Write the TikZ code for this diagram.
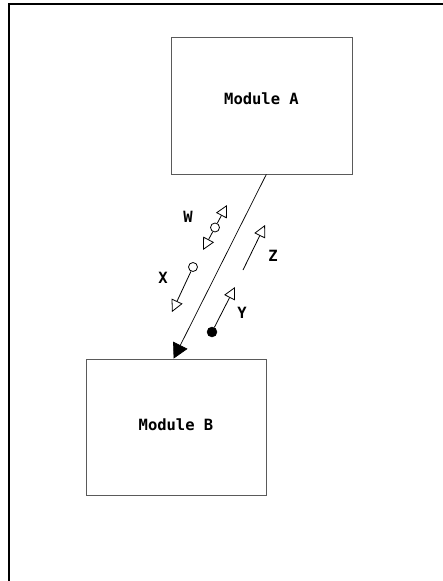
\documentclass[tikz,border=0pt]{standalone}
\usepackage{fontspec}
\setmonofont{DejaVu Sans Mono}
\usepackage{tikz}
\usetikzlibrary{arrows.meta, calc}
\definecolor{boxgray}{RGB}{90,90,90}

\begin{document}
\begin{tikzpicture}[
    x=1pt, y=-1pt,
    every node/.style={font=\ttfamily\bfseries\fontsize{15.5}{18}\selectfont},
    module/.style={rectangle, draw=boxgray, line width=0.8pt, minimum width=181pt, minimum height=137pt, inner sep=0pt},
    call/.style={-{Triangle[length=15pt, width=16pt]}, line width=0.7pt},
    couple/.style={-{Triangle[open, length=12pt, width=12pt]}, line width=0.8pt},
    datadot/.style={circle, draw, fill=white, line width=0.8pt, minimum size=9pt, inner sep=0pt},
    flagdot/.style={circle, draw, fill=black, minimum size=10pt, inner sep=0pt},
    tag/.style={inner sep=0pt}
]
\useasboundingbox (0,0) rectangle (443,581);
% outer frame
\draw[line width=2pt] (9,600) -- (9,4) -- (460,4);
% modules
\node[module, label={[yshift=7pt]center:Module A}] (modA) at (261.5,105.5) {};
\node[module, minimum width=180pt, minimum height=136pt, label={[yshift=2pt]center:Module B}] (modB) at (176,427) {};
\draw[call] (modA.-86) -- (modB.92.5);
% couples
\coordinate (w1) at (203,250);
\coordinate (w2) at (227,205);
\node[datadot] (wdot) at ($(w1)!0.5!(w2)$) {};
\draw[couple] (wdot) -- (w1);
\draw[couple] (wdot) -- (w2);
\node[tag] (wlab) at (188,217) {W};
\node[datadot] (xdot) at (193,267) {};
\coordinate (x1) at (172,312);
\draw[couple] (xdot) -- (x1);
\node[tag] (xlab) at (163,278) {X};
\coordinate (z0) at (243,270);
\coordinate (z1) at (265,225);
\draw[couple] (z0) -- (z1);
\node[tag] (zlab) at (273,256) {Z};
\node[flagdot] (ydot) at (212,332) {};
\coordinate (y1) at (235,287);
\draw[couple] (ydot) -- (y1);
\node[tag] (ylab) at (242,313) {Y};
\end{tikzpicture}
\end{document}
